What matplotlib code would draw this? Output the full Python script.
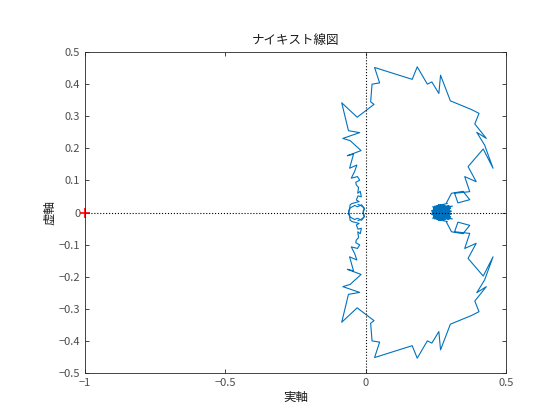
import numpy as np
import matplotlib
matplotlib.use("Agg")
import matplotlib.pyplot as plt

plt.rcParams['font.family'] = ['Noto Sans CJK JP', 'DejaVu Sans']

# ---------- DATA (upper half, w >= 0; lower half is the mirror) ----------
# dense scribble around the real axis near 0.26
cluster_re = [0.262, 0.240, 0.285, 0.252, 0.234, 0.295, 0.268, 0.246, 0.305, 0.272,
              0.238, 0.290, 0.258, 0.236, 0.300, 0.276, 0.250, 0.292, 0.264, 0.242,
              0.308, 0.270, 0.256, 0.284, 0.244, 0.278, 0.298, 0.248, 0.266, 0.288,
              0.237, 0.302, 0.260, 0.282, 0.245, 0.274, 0.296, 0.254, 0.286, 0.268,
              0.240, 0.292, 0.258, 0.280, 0.300, 0.264, 0.250, 0.290]
cluster_im = [0.0, 0.014, 0.020, -0.010, 0.006, 0.012, 0.024, -0.006, 0.004, 0.016,
              0.018, -0.004, 0.022, 0.002, 0.017, 0.005, 0.010, 0.021, -0.012, 0.012,
              0.020, 0.008, 0.019, 0.014, -0.008, 0.023, 0.009, 0.015, -0.003, 0.006,
              -0.001, 0.013, 0.011, -0.009, 0.020, 0.003, 0.022, -0.005, 0.017, 0.013,
              0.009, 0.001, 0.024, 0.018, -0.002, 0.007, 0.021, 0.028]

branch_re = [0.287, 0.305, 0.346, 0.37, 0.328, 0.316, 0.37, 0.352, 0.393, 0.364,
             0.418, 0.453, 0.423, 0.395, 0.429, 0.388, 0.403, 0.376, 0.301, 0.266,
             0.260, 0.235, 0.219, 0.183, 0.165, 0.031, 0.049, 0.022, 0.017, 0.029,
             -0.031, -0.086, -0.062, -0.022, -0.082, -0.056, -0.017, -0.066, -0.044, -0.058,
             -0.032, -0.040, -0.052, -0.030, -0.022, -0.036, -0.034, -0.026, -0.029, -0.020,
             -0.016, -0.028, -0.034, -0.024, -0.05, -0.056, -0.058, -0.062,
             -0.056, -0.040, -0.030, -0.015, -0.005, -0.010, -0.006, -0.018, -0.028]
branch_im = [0.03, 0.06, 0.066, 0.04, 0.03, 0.06, 0.065, 0.112, 0.096, 0.143,
             0.198, 0.138, 0.21, 0.25, 0.231, 0.276, 0.309, 0.321, 0.348, 0.428,
             0.371, 0.407, 0.40, 0.454, 0.415, 0.452, 0.404, 0.40, 0.345, 0.337,
             0.297, 0.342, 0.255, 0.249, 0.231, 0.224, 0.193, 0.177, 0.182, 0.138,
             0.148, 0.128, 0.107, 0.112, 0.101, 0.094, 0.086, 0.078, 0.06, 0.066,
             0.049, 0.052, 0.039, 0.034, 0.028, 0.024, 0.012, 0.004,
             -0.014, -0.022, -0.018, -0.024, -0.012, 0.002, 0.014, 0.022, 0.025]

re = np.array(cluster_re + branch_re)
im = np.array(cluster_im + branch_im)

# ---------- PLOT ----------
fig = plt.figure(figsize=(5.6, 4.2), dpi=100)
ax = fig.add_axes([0.152, 0.112, 0.752, 0.764])

line_color = '#0072BD'
ax.plot(re, im, color=line_color, lw=0.8)
ax.plot(re, -im, color=line_color, lw=0.8)

ax.axhline(0, color='k', ls=':', lw=0.8)
ax.axvline(0, color='k', ls=':', lw=0.8)
ax.plot([-1], [0], marker='+', color='r', ms=7, mew=1.2, clip_on=False)

ax.set_xlim(-1, 0.5)
ax.set_ylim(-0.5, 0.5)
ax.set_xticks([-1, -0.5, 0, 0.5])
ax.set_xticklabels(['−1', '−0.5', '0', '0.5'])
ax.set_yticks(np.round(np.arange(-0.5, 0.51, 0.1), 1))
ax.set_yticklabels(['−0.5', '−0.4', '−0.3', '−0.2', '−0.1', '0',
                    '0.1', '0.2', '0.3', '0.4', '0.5'])

grey = '#262626'
for s in ax.spines.values():
    s.set_color(grey)
    s.set_linewidth(0.6)
ax.tick_params(direction='in', length=3, width=0.6, colors=grey,
               labelcolor='#4d4d4d', labelsize=8, top=True, right=True)

ax.set_title('ナイキスト線図', fontsize=9, color='#1a1a1a')
ax.set_xlabel('実軸', fontsize=9, color='#1a1a1a', labelpad=2)
ax.set_ylabel('虚軸', fontsize=9, color='#1a1a1a', labelpad=2)

fig.savefig('out.png', dpi=100)
